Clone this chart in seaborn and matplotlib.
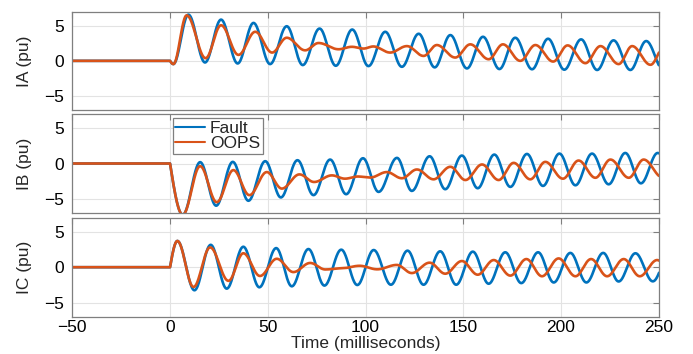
import numpy as np
import pandas as pd
import matplotlib
matplotlib.use("Agg")
import matplotlib.pyplot as plt
import seaborn as sns

# ---- data: extrema (time in ms, value in pu) ----
ia_fault_t = [-50, 0, 1.7, 9.4, 17.9, 26.1, 34.6, 42.7, 51.2, 59.7, 67.9, 76.5, 84.8, 93.2, 101.5,
              110.1, 118.6, 127.2, 135.4, 143.4, 151.9, 160.1, 168.5, 176.6, 185.2, 193.4, 201.7,
              210.3, 218.5, 226.9, 235.5, 243.6, 252.5]
ia_fault_v = [0, 0, -0.46, 6.58, -0.23, 5.87, -0.37, 5.4, -0.46, 4.93, -0.6, 4.6, -0.7, 4.46, -0.75,
              4.14, -0.85, 3.86, -0.93, 3.67, -1.08, 3.43, -1.17, 3.29, -1.2, 3.15, -1.26,
              3.06, -1.3, 2.92, -1.3, 2.82, -1.35]
ia_oops_t = [-50, 0, 1.7, 8.5, 18.2, 26.1, 35.0, 43.6, 52.2, 59.7, 69.1, 76.0, 86.2, 93.0, 99.0, 104.0,
             112.6, 121.2, 129.7, 136.5, 145.9, 153.6, 163.0, 170.3, 179.2, 186.9, 196.0, 203.4,
             212.5, 220.2, 229.5, 236.4, 245.8, 253.0]
ia_oops_v = [0, 0, -0.46, 6.48, 0.38, 5.07, 0.85, 4.14, 1.18, 3.29, 1.5, 2.54, 1.65, 2.0, 1.75, 2.05,
             1.18, 2.1, 0.7, 2.25, 0.47, 2.35, 0.23, 2.35, 0.0, 2.25, -0.1, 2.2,
             -0.33, 2.1, -0.46, 2.1, -0.56, 2.1]

ib_fault_t = [-50, 0, 6.5, 15.4, 23.6, 32.1, 40.1, 48.7, 56.7, 65.2, 73.4, 81.9, 90.1, 98.7, 106.7,
              116.1, 123.7, 132.8, 140.8, 149.3, 157.4, 165.9, 174.1, 182.6, 190.8, 199.2, 207.4,
              215.9, 224.4, 232.9, 240.9, 249.5, 257.5]
ib_fault_v = [0, 0, -7.3, 0.19, -6.0, 0.23, -5.3, 0.33, -4.83, 0.47, -4.5, 0.56, -4.37, 0.75, -4.04,
              0.8, -3.9, 1.03, -3.66, 1.13, -3.52, 1.27, -3.33, 1.36, -3.19, 1.41, -3.1,
              1.41, -2.96, 1.5, -2.82, 1.5, -2.7]
ib_oops_t = [-50, 0, 6.5, 15.4, 23.9, 32.4, 40.6, 49.5, 57.2, 66.2, 73.7, 82.8, 89.5, 96.0, 102.4,
             110.9, 118.6, 126.3, 134.8, 143.4, 151.1, 159.6, 168.1, 175.8, 184.3, 192.0, 201.0,
             209.0, 217.6, 225.3, 234.7, 242.3, 252.0, 259.0]
ib_oops_v = [0, 0, -7.3, -0.38, -5.5, -0.94, -4.5, -1.22, -3.57, -1.55, -2.63, -1.69, -2.16, -1.85, -2.0,
             -1.22, -2.1, -0.85, -2.25, -0.47, -2.35, -0.14, -2.35, 0.09, -2.25, 0.23, -2.16,
             0.42, -2.03, 0.56, -2.03, 0.56, -2.0, 0.6]

ic_fault_t = [-50, 0, 3.75, 12.5, 20.8, 29.0, 37.5, 45.7, 54.3, 62.3, 70.8, 79.0, 87.6, 95.8, 104.2,
              113.0, 121.5, 129.7, 138.2, 146.4, 154.9, 163.0, 171.5, 179.7, 188.3, 196.3, 204.8,
              213.0, 221.6, 229.5, 238.1, 247.0, 255.5]
ic_fault_v = [0, 0, 3.71, -3.26, 3.16, -3.03, 2.89, -2.84, 2.7, -2.7, 2.57, -2.6, 2.48, -2.52, 2.43,
              -2.48, 2.34, -2.48, 2.25, -2.48, 2.2, -2.34, 2.11, -2.25, 2.11, -2.16, 2.02,
              -2.16, 2.02, -2.02, 1.97, -2.0, 1.95]
ic_oops_t = [-50, 0, 3.75, 12.0, 20.5, 29.9, 37.5, 46.0, 54.6, 63.1, 71.7, 79.4, 88.0, 97.0, 106.0,
             116.0, 123.7, 132.8, 140.8, 149.3, 157.4, 165.6, 174.1, 182.3, 190.3, 198.8, 207.4,
             215.4, 223.6, 232.1, 240.3, 249.2, 257.0]
ic_oops_v = [0, 0, 3.71, -2.8, 2.8, -1.93, 1.97, -1.24, 1.19, -0.69, 0.6, -0.32, -0.15, 0.2, -0.3,
             0.32, -0.83, 0.64, -0.92, 0.87, -1.06, 1.01, -1.19, 1.15, -1.28, 1.24, -1.28,
             1.15, -1.28, 1.15, -1.28, 1.01, -1.2]

series_names = ["Fault", "OOPS"]
panel_labels = ["IA (pu)", "IB (pu)", "IC (pu)"]
x_label = "Time (milliseconds)"
x_ticks = [-50, 0, 50, 100, 150, 200, 250]
y_ticks = [-5, 0, 5]
colors = {"Fault": "#0072BD", "OOPS": "#D95319"}


def trace(ts, vs, n=40):
    """Smooth sinusoidal-shaped curve passing through the read extrema."""
    xs, ys = [], []
    for i in range(len(ts) - 1):
        t0, t1, v0, v1 = ts[i], ts[i + 1], vs[i], vs[i + 1]
        s = np.linspace(0, 1, n, endpoint=False)
        if t0 == 0:
            w = np.sin(np.pi / 2 * s)          # onset: start with a slope
        else:
            w = (1 - np.cos(np.pi * s)) / 2     # extremum to extremum
        xs.append(t0 + (t1 - t0) * s)
        ys.append(v0 + (v1 - v0) * w)
    xs.append([ts[-1]])
    ys.append([vs[-1]])
    return np.concatenate(xs), np.concatenate(ys)


panels = [
    {"Fault": (ia_fault_t, ia_fault_v), "OOPS": (ia_oops_t, ia_oops_v)},
    {"Fault": (ib_fault_t, ib_fault_v), "OOPS": (ib_oops_t, ib_oops_v)},
    {"Fault": (ic_fault_t, ic_fault_v), "OOPS": (ic_oops_t, ic_oops_v)},
]

sns.set_style("white")
plt.rcParams["font.family"] = ["Liberation Sans", "DejaVu Sans"]
plt.rcParams["axes.unicode_minus"] = True

FS = 12.5
fig = plt.figure(figsize=(6.93, 3.54), dpi=100)
W, H = 693.0, 354.0
left, right = 72.3, 658.7
boxes = [(11.7, 110.0), (114.3, 212.7), (217.7, 316.7)]
frame_col = "#7f7f7f"
text_col = "#262626"

axes = []
for i, (top, bot) in enumerate(boxes):
    ax = fig.add_axes([left / W, (H - bot) / H, (right - left) / W, (bot - top) / H])
    axes.append(ax)
    rows = []
    for name in series_names:
        xs, ys = trace(*panels[i][name])
        rows.append(pd.DataFrame({"t": xs, "v": ys, "series": name}))
    df = pd.concat(rows, ignore_index=True)
    sns.lineplot(data=df, x="t", y="v", hue="series", hue_order=series_names,
                 palette=colors, estimator=None, errorbar=None, sort=False,
                 linewidth=1.9, ax=ax, legend=(i == 1))
    ax.set_xlim(-50, 250)
    ax.set_ylim(-7, 7)
    ax.set_xticks(x_ticks)
    ax.set_yticks(y_ticks)
    ax.grid(True, color="#e3e3e3", linewidth=0.8)
    ax.set_axisbelow(True)
    for sp in ax.spines.values():
        sp.set_visible(True)
        sp.set_color(frame_col)
        sp.set_linewidth(0.9)
    ax.tick_params(direction="in", length=4, width=0.8, color=frame_col,
                   top=True, right=True, labelsize=FS, labelcolor="black")
    ax.tick_params(axis="y", pad=6)
    ax.tick_params(axis="x", pad=2.5)
    ax.set_ylabel(panel_labels[i], fontsize=FS, color=text_col)
    ax.yaxis.set_label_coords(-0.068, 0.5)
    if i < 2:
        ax.tick_params(labelbottom=False)
        ax.set_xlabel("")
    else:
        ax.set_xlabel(x_label, fontsize=FS, color=text_col)
        ax.xaxis.set_label_coords(0.5, -0.19)

leg = axes[1].legend(loc="upper left", bbox_to_anchor=(0.171, 0.959), borderaxespad=0,
                     fontsize=FS, handlelength=1.7, handletextpad=0.3, labelspacing=0.0,
                     borderpad=0.15, frameon=True, fancybox=False, framealpha=1)
leg.get_frame().set_edgecolor(frame_col)
leg.get_frame().set_linewidth(0.9)
for line in leg.get_lines():
    line.set_linewidth(1.5)

fig.savefig("out.png", dpi=100)
